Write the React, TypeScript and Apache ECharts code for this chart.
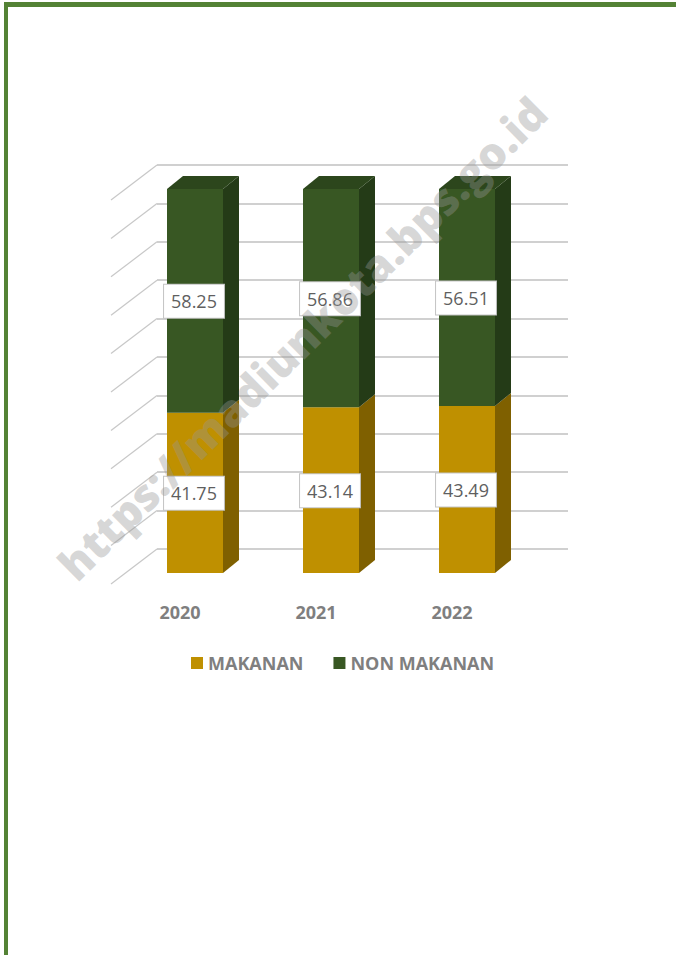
import React, { useEffect, useRef } from "react";
import * as echarts from "echarts";

const categories = ["2020", "2021", "2022"];
const makanan = [41.75, 43.14, 43.49];
const nonMakanan = [58.25, 56.86, 56.51];
const seriesNames = ["MAKANAN", "NON MAKANAN"];
const wallTicks = [0, 10, 20, 30, 40, 50, 60, 70, 80, 90, 100];
const watermark = "https://madiunkota.bps.go.id";

const FONT = "'Open Sans', 'Liberation Sans', sans-serif";

const palette = {
  yellow: { front: "#BF9000", side: "#7F6000", top: "#9A7400" },
  green: { front: "#385723", side: "#243B17", top: "#2C461C" },
};

function makeBarRenderer(col: { front: string; side: string; top: string }, drawTop: boolean) {
  return (params: any, api: any) => {
    const idx = api.value(0);
    const start = api.value(1);
    const end = api.value(2);
    const label = api.value(3);
    const cx = api.coord([idx, 0])[0];
    const yTop = api.coord([idx, end])[1];
    const yBot = api.coord([idx, start])[1];
    const half = 28;
    const dx = 16;
    const dy = -13;
    const L = cx - half;
    const R = cx + half;
    const children: any[] = [
      {
        type: "polygon",
        shape: { points: [[R, yTop], [R + dx, yTop + dy], [R + dx, yBot + dy], [R, yBot]] },
        style: { fill: col.side },
      },
      {
        type: "rect",
        shape: { x: L, y: yTop, width: R - L, height: yBot - yTop },
        style: { fill: col.front },
      },
    ];
    if (drawTop) {
      children.push({
        type: "polygon",
        shape: { points: [[L, yTop], [R, yTop], [R + dx, yTop + dy], [L + dx, yTop + dy]] },
        style: { fill: col.top },
      });
    }
    children.push({
      type: "text",
      x: cx - 1,
      y: (yTop + yBot) / 2 + 0.5,
      z2: 10,
      style: {
        text: Number(label).toFixed(2),
        fill: "#5f5f5f",
        fontSize: 18,
        fontFamily: FONT,
        align: "center",
        verticalAlign: "middle",
        backgroundColor: "#ffffff",
        borderColor: "#c4c4c4",
        borderWidth: 1,
        padding: [8, 7, 7, 7],
      },
    });
    return { type: "group", children };
  };
}

export default function App() {
  const ref = useRef<HTMLDivElement>(null);

  useEffect(() => {
    if (!ref.current) return;
    const chart = echarts.init(ref.current, null, { renderer: "svg" });

    const makData = categories.map((_, i) => [i, 0, makanan[i], makanan[i]]);
    const nonData = categories.map((_, i) => [i, makanan[i], makanan[i] + nonMakanan[i], nonMakanan[i]]);

    const option: any = {
      animation: false,
      backgroundColor: "#ffffff",
      color: [palette.yellow.front, palette.green.front],
      grid: [
        { left: 127, right: 141, top: 189, bottom: 382 },
        { left: 157, right: 108, top: 165, bottom: 406 },
      ],
      xAxis: [
        {
          type: "category",
          gridIndex: 0,
          data: categories,
          axisLine: { show: false },
          axisTick: { show: false },
          axisLabel: {
            color: "#7f7f7f",
            fontWeight: "bold",
            fontSize: 18,
            fontFamily: FONT,
            margin: 30,
            padding: [0, 30, 0, 0],
          },
        },
        { type: "value", gridIndex: 1, min: 0, max: 1, show: false },
      ],
      yAxis: [
        { type: "value", gridIndex: 0, min: 0, max: 100, show: false },
        {
          type: "value",
          gridIndex: 1,
          min: 0,
          max: 100,
          interval: 10,
          axisLine: { show: false },
          axisTick: { show: false },
          axisLabel: { show: false },
          splitLine: { show: true, lineStyle: { color: "#c0c0c0", width: 1.6 } },
        },
      ],
      legend: {
        left: 186,
        top: 649,
        icon: "rect",
        itemWidth: 12,
        itemHeight: 12,
        itemGap: 30,
        data: seriesNames,
        textStyle: { color: "#7f7f7f", fontWeight: "bold", fontSize: 18, fontFamily: FONT },
      },
      series: [
        {
          type: "custom",
          name: "wall",
          xAxisIndex: 1,
          yAxisIndex: 1,
          silent: true,
          z: 1,
          data: wallTicks.map((v) => [0, v]),
          renderItem: (params: any, api: any) => {
            const p = api.coord([api.value(0), api.value(1)]);
            return {
              type: "line",
              shape: { x1: p[0], y1: p[1], x2: p[0] - 46, y2: p[1] + 35 },
              style: { stroke: "#c8c8c8", lineWidth: 1.2 },
            };
          },
        },
        {
          type: "custom",
          name: seriesNames[0],
          xAxisIndex: 0,
          yAxisIndex: 0,
          itemStyle: { color: palette.yellow.front },
          z: 3,
          data: makData,
          renderItem: makeBarRenderer(palette.yellow, false),
        },
        {
          type: "custom",
          name: seriesNames[1],
          xAxisIndex: 0,
          yAxisIndex: 0,
          itemStyle: { color: palette.green.front },
          z: 4,
          data: nonData,
          renderItem: makeBarRenderer(palette.green, true),
        },
      ],
      graphic: [
        { type: "rect", left: 4, top: 2, shape: { width: 672, height: 5 }, style: { fill: "#548235" }, z: 50 },
        { type: "rect", left: 4, top: 2, shape: { width: 4, height: 953 }, style: { fill: "#548235" }, z: 50 },
        {
          type: "text",
          x: 302,
          y: 338,
          rotation: (44.6 * Math.PI) / 180,
          z: 100,
          silent: true,
          style: {
            text: watermark,
            fill: "rgba(150,150,150,0.38)",
            fontSize: 44,
            fontWeight: 800,
            fontFamily: FONT,
            align: "center",
            verticalAlign: "middle",
          },
        },
      ],
    };

    chart.setOption(option);
    return () => chart.dispose();
  }, []);

  return (
    <div
      ref={ref}
      style={{ position: "absolute", left: 0, top: 0, width: 676, height: 955, background: "#fff" }}
    />
  );
}
